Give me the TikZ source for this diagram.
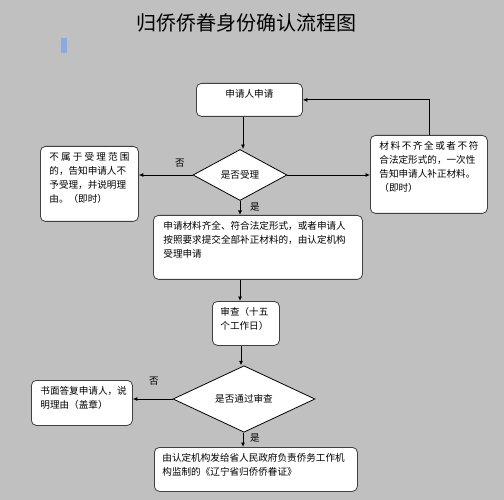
\documentclass[tikz,border=0pt]{standalone}
\usepackage{fontspec}
\setmainfont{Noto Sans CJK SC}
\usetikzlibrary{shapes.geometric,arrows.meta}

\definecolor{pagegray}{HTML}{C0C0C0}
\definecolor{barblue}{HTML}{8EA9DB}
\definecolor{boxline}{HTML}{404040}

% top aligned text block inside a box
\newcommand{\boxtxt}[3]{\parbox[c][#2][t]{#1}{\raggedright #3}}

\begin{document}
\begin{tikzpicture}[x=1pt, y=-1pt, line width=0.8pt,
	proc/.style = { draw=boxline, fill=white, rounded corners=5pt, anchor=north west,
		inner xsep=8pt, inner ysep=6pt, font=\fontsize{9.6}{14}\selectfont},
	decide/.style = { diamond, draw=black, fill=white, inner sep=0pt,
		font=\fontsize{9.6}{14}\selectfont},
	lbl/.style = { font=\fontsize{9.6}{12}\selectfont},
	flow/.style = { -{Latex[length=4.5pt,width=4pt]}, black}]
	
	% Background page
	\fill [pagegray] (0,0) rectangle (504,500);
	\useasboundingbox (0,0) rectangle (504,500);
	
	% Title and marker
	\node[font=\fontsize{20}{24}\selectfont] (title) at (246,23) {归侨侨眷身份确认流程图};
	\fill[barblue] (61,38) rectangle (67,53);
	
	% Process boxes
	\node[proc] (apply) at (196,83) {\parbox[c][21pt][t]{90pt}{\centering 申请人申请}};
	\node[proc, inner xsep=9pt] (reject) at (40,146) {\boxtxt{80pt}{63pt}{%
		不\hfill 属\hfill 于\hfill 受\hfill 理\hfill 范\hfill 围\\
		的，告知申请人不\\ 予受理，并说明理\\ 由。（即时）}};
	\node[proc, inner xsep=9pt] (supply) at (370,135) {\boxtxt{99pt}{66pt}{%
		材\hfill 料\hfill 不\hfill 齐\hfill 全\hfill 或\hfill 者\hfill 不\hfill 符\\
		合法定形式的，一次性\\ 告知申请人补正材料。\\ （即时）}};
	\node[proc, inner xsep=10pt] (accept) at (153,215) {\boxtxt{189pt}{52pt}{%
		申请材料齐全、符合法定形式，或者申请人\\
		按照要求提交全部补正材料的，由认定机构\\ 受理申请}};
	\node[proc] (review) at (212,301) {\boxtxt{51pt}{32pt}{审查（十五\\ 个工作日）}};
	\node[proc, inner xsep=9pt] (refuse) at (31,380) {\boxtxt{83pt}{33pt}{%
		书面答复申请人，说\\ 明理由（盖章）}};
	\node[proc] (issue) at (154,447) {\boxtxt{187pt}{32pt}{%
		由认定机构发给省人民政府负责侨务工作机\\ 构监制的《辽宁省归侨侨眷证》}};
	
	% Decisions
	\node[decide, minimum width=94pt, minimum height=51pt] (check) at (240,175) {是否受理};
	\node[decide, minimum width=142pt, minimum height=46pt] (pass) at (244,399) {是否通过审查};
	
	% Connectors
	\draw[flow] (apply.south -| 243,0) -- (check.north -| 243,0);
	\draw[flow] (check.west) -- (check.west -| reject.east);
	\draw[flow] (check.east) -- (check.east -| supply.west);
	\draw[flow] (supply.north) |- (apply.east);
	\draw[flow] (check.south) -- (check.south |- accept.north);
	\draw[flow] (accept.south -| check.south) -- (review.north -| check.south);
	\draw[flow] (review.south -| 241,0) -- (pass.north -| 241,0);
	\draw[flow] (pass.west) -- (pass.west -| refuse.east);
	\draw[flow] (pass.south -| 243,0) -- (issue.north -| 243,0);
	
	% Branch labels
	\node[lbl] (no1) at (180,163) {否};
	\node[lbl] (yes1) at (255,207) {是};
	\node[lbl] (no2) at (154,381) {否};
	\node[lbl] (yes2) at (255,438) {是};
	
\end{tikzpicture}
\end{document}
